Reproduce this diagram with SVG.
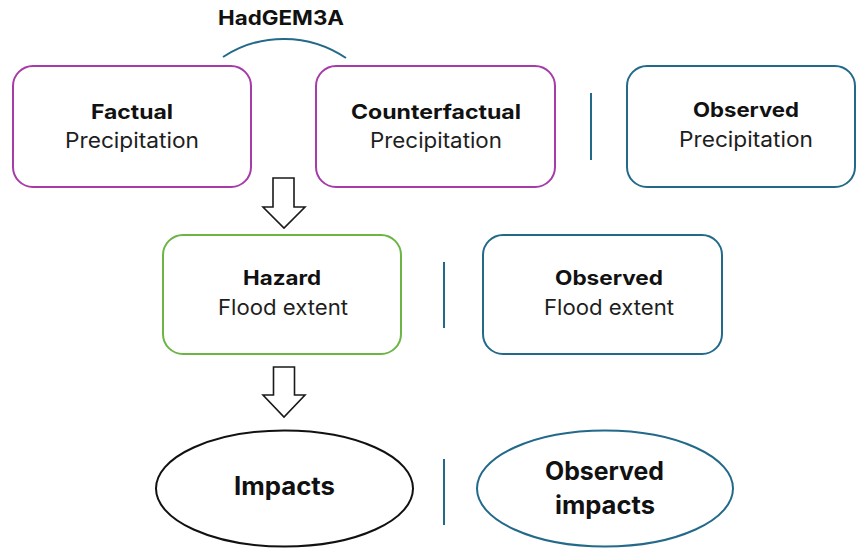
<svg xmlns="http://www.w3.org/2000/svg" width="856" height="550" viewBox="0 0 856 550">
  <style>
    .box { fill: #ffffff; stroke-width: 2; }
    .model { stroke: #A73BA8; }
    .obs { stroke: #23698A; }
    .hazard { stroke: #6BB545; }
    .sep { stroke: #23698A; stroke-width: 2; fill: none; }
    .arrow { fill: #ffffff; stroke: #1a1a1a; stroke-width: 1.6; stroke-linejoin: miter; }
    .imp { fill: #ffffff; stroke: #111111; stroke-width: 2; }
    .impobs { fill: #ffffff; stroke: #23698A; stroke-width: 2; }
    text { font-family: Inter, "Open Sans", "Liberation Sans", sans-serif; fill: #111111; text-anchor: middle; }
    .t { font-size: 20px; font-weight: 700; }
    .s { font-size: 21px; font-weight: 400; fill: #1e1e1e; }
    .big { font-size: 25px; font-weight: 700; }
  </style>

  <!-- model label and bracket over the two simulated precipitation boxes -->
  <g id="hadgem3a">
    <text class="t" x="281" y="25" textLength="126" lengthAdjust="spacingAndGlyphs">HadGEM3A</text>
    <path class="sep" d="M223 57 A111 111 0 0 1 346 58"/>
  </g>

  <!-- row 1: precipitation -->
  <g id="factual">
    <rect class="box model" x="13" y="66" width="238" height="121" rx="20"/>
    <text class="t" x="132" y="119" textLength="82" lengthAdjust="spacingAndGlyphs">Factual</text>
    <text class="s" x="132" y="148" textLength="134" lengthAdjust="spacingAndGlyphs">Precipitation</text>
  </g>
  <g id="counterfactual">
    <rect class="box model" x="316" y="66" width="239" height="121" rx="20"/>
    <text class="t" x="436" y="119" textLength="170" lengthAdjust="spacingAndGlyphs">Counterfactual</text>
    <text class="s" x="436" y="148" textLength="132" lengthAdjust="spacingAndGlyphs">Precipitation</text>
  </g>
  <g id="observed-precipitation">
    <rect class="box obs" x="627" y="66" width="228" height="121" rx="20"/>
    <text class="t" x="746" y="117" textLength="106" lengthAdjust="spacingAndGlyphs">Observed</text>
    <text class="s" x="746" y="147" textLength="134" lengthAdjust="spacingAndGlyphs">Precipitation</text>
  </g>

  <!-- row 2: flood extent -->
  <g id="hazard">
    <rect class="box hazard" x="163" y="235" width="238" height="119" rx="20"/>
    <text class="t" x="282" y="285" textLength="78" lengthAdjust="spacingAndGlyphs">Hazard</text>
    <text class="s" x="283" y="315" textLength="130" lengthAdjust="spacingAndGlyphs">Flood extent</text>
  </g>
  <g id="observed-flood">
    <rect class="box obs" x="483" y="235" width="239" height="119" rx="20"/>
    <text class="t" x="609" y="285" textLength="108" lengthAdjust="spacingAndGlyphs">Observed</text>
    <text class="s" x="609" y="315" textLength="130" lengthAdjust="spacingAndGlyphs">Flood extent</text>
  </g>

  <!-- row 3: impacts -->
  <g id="impacts">
    <ellipse class="imp" cx="284.5" cy="488.5" rx="128.5" ry="58"/>
    <text class="big" x="284.5" y="495" textLength="101" lengthAdjust="spacingAndGlyphs">Impacts</text>
  </g>
  <g id="observed-impacts">
    <ellipse class="impobs" cx="605" cy="488.5" rx="128" ry="58"/>
    <text class="big" x="604.5" y="480" textLength="119" lengthAdjust="spacingAndGlyphs">Observed</text>
    <text class="big" x="605" y="514" textLength="100" lengthAdjust="spacingAndGlyphs">impacts</text>
  </g>

  <!-- connectors: block arrows and separators between modelled and observed columns -->
  <g id="connectors">
    <path class="arrow" d="M273 178 H294 V207 H305 L284 228 L263 207 H273 Z"/>
    <path class="arrow" d="M273.5 367 H294.5 V395 H305 L284 417 L263 395 H273.5 Z"/>
    <line class="sep" x1="591" y1="93" x2="591" y2="160"/>
    <line class="sep" x1="444" y1="262" x2="444" y2="328"/>
    <line class="sep" x1="444" y1="459" x2="444" y2="525"/>
  </g>
</svg>
